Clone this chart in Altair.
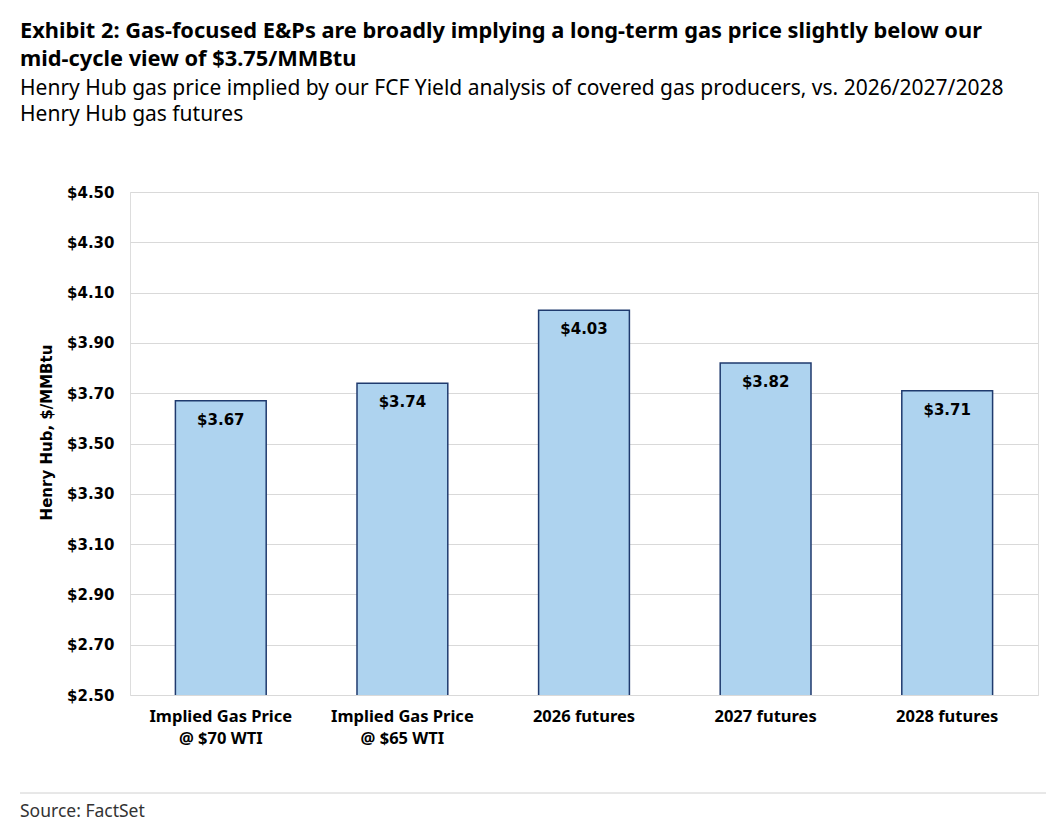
import altair as alt
import pandas as pd

categories = ["Implied Gas Price|@ $70 WTI", "Implied Gas Price|@ $65 WTI",
              "2026 futures", "2027 futures", "2028 futures"]
values = [3.67, 3.74, 4.03, 3.82, 3.71]
labels = ["$3.67", "$3.74", "$4.03", "$3.82", "$3.71"]
y_ticks = [2.5, 2.7, 2.9, 3.1, 3.3, 3.5, 3.7, 3.9, 4.1, 4.3, 4.5]

df = pd.DataFrame({"cat": categories, "val": values, "lab": labels})

title_lines = ["Exhibit 2: Gas-focused E&Ps are broadly implying a long-term gas price slightly below our",
               "mid-cycle view of $3.75/MMBtu"]
subtitle_lines = ["Henry Hub gas price implied by our FCF Yield analysis of covered gas producers, vs. 2026/2027/2028",
                  "Henry Hub gas futures"]
source_text = "Source: FactSet"

W, H = 908, 503

x_enc = alt.X("cat:N", sort=categories,
              scale=alt.Scale(paddingInner=0.5, paddingOuter=0.25),
              axis=alt.Axis(title=None, labelAngle=0, labelExpr="split(datum.label, '|')",
                            labelFont="Noto Sans", labelFontWeight="bold", labelFontSize=16.5,
                            labelColor="#000", labelPadding=13, labelLineHeight=22,
                            ticks=False, domain=False))
y_enc = alt.Y("val:Q", scale=alt.Scale(domain=[2.5, 4.5], nice=False, zero=False),
              axis=alt.Axis(title="Henry Hub, $/MMBtu", values=y_ticks, format="$.2f",
                            labelFont="DejaVu Sans", labelFontWeight="bold", labelFontSize=15,
                            labelColor="#000", labelPadding=16, ticks=False, domain=False,
                            titleFont="DejaVu Sans", titleFontWeight="bold", titleFontSize=15,
                            titleColor="#000", titlePadding=12, titleY=240,
                            grid=True, gridColor="#d9d9d9", gridWidth=1))

base = alt.Chart(df)

bars = base.mark_bar(color="#aed3ef", stroke="#1f3a6e", strokeWidth=1.5, clip=True).encode(
    x=x_enc, y=y_enc)
text = base.mark_text(baseline="middle", dy=19, font="DejaVu Sans", fontWeight="bold",
                      fontSize=15, color="#000").encode(x=x_enc, y=y_enc, text="lab:N")

one = pd.DataFrame({"k": [0]})


def txt(s, y, size, weight="normal", color="#000"):
    return alt.Chart(one).mark_text(align="left", baseline="middle", font="Noto Sans",
                                    fontSize=size, fontWeight=weight, color=color).encode(
        x=alt.value(-110), y=alt.value(y), text=alt.value(s))


sep = alt.Chart(one).mark_rule(color="#d0d0d0", strokeWidth=1).encode(
    x=alt.value(-110), x2=alt.value(916), y=alt.value(601))

layers = [bars, text, sep,
          txt(title_lines[0], -161, 21.8, "bold"),
          txt(title_lines[1], -133, 21.8, "bold"),
          txt(subtitle_lines[0], -103, 21),
          txt(subtitle_lines[1], -77, 21),
          txt(source_text, 620, 17.5, color="#333")]

chart = alt.layer(*layers).properties(
    width=W, height=H,
    padding={"left": 122, "top": 184, "right": 8, "bottom": 128},
    autosize=alt.AutoSizeParams(type="none"),
).configure_view(stroke="#d9d9d9", strokeWidth=1).configure(background="white")

chart.save("out.html", embed_options={"renderer": "svg", "actions": False})
